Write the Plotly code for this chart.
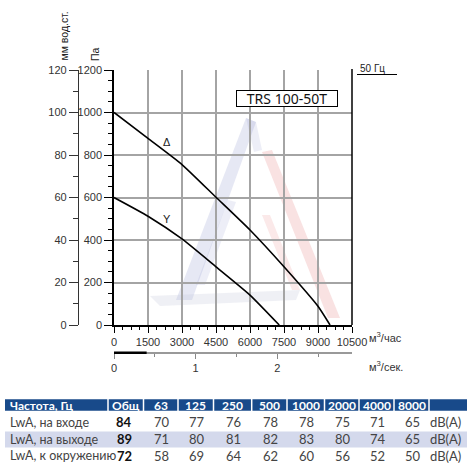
import plotly.graph_objects as go

W = H = 472

# ---- data ----
flow_delta = [0, 1500, 3000, 4500, 6000, 7500, 9000, 9530]
pres_delta = [1000, 878, 755, 601, 447, 274, 88, 0]
flow_star = [0, 1500, 3000, 4500, 6000, 7290]
pres_star = [600, 512, 405, 274, 141, 0]

flow_ticks = [0, 1500, 3000, 4500, 6000, 7500, 9000, 10500]
sec_ticks = [0, 1, 2]

freq_header = ["Частота, Гц", "Общ", "63", "125", "250", "500", "1000", "2000", "4000", "8000", ""]
row_labels = ["LwA, на входе", "LwA, на выходе", "LwA, к окружению"]
row_totals = [84, 89, 72]
row_inlet = [70, 77, 76, 78, 78, 75, 71, 65]
row_outlet = [71, 80, 81, 82, 83, 80, 74, 65]
row_surround = [58, 69, 64, 62, 60, 56, 52, 50]
unit_label = "dB(A)"
model_name = "TRS 100-50T"


def X(px):
    return px / W


def Y(py):
    return 1 - py / H


TICKFONT = dict(family="Liberation Sans, Arial, sans-serif", size=11, color="#333")
TABFONT = "Lato, Noto Sans, sans-serif"
BOXFONT = "Noto Sans, Open Sans, sans-serif"
LBLFONT = "Liberation Sans, Arial, sans-serif"
GRID = "#a4a4a4"

fig = go.Figure()

fig.add_trace(go.Scatter(x=flow_delta, y=pres_delta, mode="lines",
                         line=dict(color="black", width=1.6, shape="spline", smoothing=0.5),
                         hoverinfo="skip"))
fig.add_trace(go.Scatter(x=flow_star, y=pres_star, mode="lines",
                         line=dict(color="black", width=1.6, shape="spline", smoothing=0.5),
                         hoverinfo="skip"))
# dummy traces so the secondary axes are drawn
fig.add_trace(go.Scatter(x=[0], y=[0], yaxis="y2", mode="markers",
                         marker=dict(opacity=0), hoverinfo="skip"))
fig.add_trace(go.Scatter(x=[0], y=[0], xaxis="x2", mode="markers",
                         marker=dict(opacity=0), hoverinfo="skip"))

shapes = []
annotations = []


def note(text, px, py, size=11, color="#333", family=LBLFONT, xanchor="center", **kw):
    d = dict(text=text, xref="paper", yref="paper", x=X(px), y=Y(py),
             xanchor=xanchor, yanchor="middle", showarrow=False,
             font=dict(family=family, size=size, color=color))
    d.update(kw)
    annotations.append(d)


# watermark (faint logo)
def poly(pts, color):
    path = "M " + " L ".join(f"{X(a)},{Y(b)}" for a, b in pts) + " Z"
    shapes.append(dict(type="path", xref="paper", yref="paper", layer="below",
                       line=dict(width=0), fillcolor=color, path=path))


poly([(246, 118), (256, 122), (192, 300), (176, 300)], "rgba(140,150,205,0.22)")
poly([(246, 118), (256, 122), (262, 150), (254, 152)], "rgba(140,150,205,0.16)")
poly([(262, 152), (272, 150), (340, 318), (328, 318)], "rgba(225,110,110,0.20)")
poly([(228, 200), (236, 202), (205, 285), (196, 285)], "rgba(140,150,205,0.16)")
poly([(262, 215), (270, 215), (300, 290), (292, 290)], "rgba(225,110,110,0.15)")
poly([(150, 296), (300, 290), (296, 300), (160, 306)], "rgba(190,195,215,0.25)")

# right frame border
shapes.append(dict(type="line", xref="paper", yref="paper",
                   x0=X(352), x1=X(352), y0=Y(69), y1=Y(325),
                   line=dict(color="black", width=1.5)))

# model box
note(model_name, 287, 98.4, size=14, color="#111", family=BOXFONT,
     width=100, height=15, borderpad=0, borderwidth=1, bordercolor="black", bgcolor="white")

# 50 Hz label
note("50 Гц", 357.5, 68, size=10, color="#222", xanchor="left")
shapes.append(dict(type="line", xref="paper", yref="paper",
                   x0=X(357), x1=X(397), y0=Y(74.5), y1=Y(74.5),
                   line=dict(color="black", width=1)))

# axis titles
note("мм вод.ст.", 63.5, 36, size=10.5, color="#222", textangle=-90)
note("Па", 95, 54, size=10.5, color="#222", textangle=-90)
note("м<sup>3</sup>/час", 367, 337, size=11, xanchor="left")
note("м<sup>3</sup>/сек.", 367, 366, size=11, xanchor="left")

# curve labels
note("Δ", 167.3, 142, size=11, color="#222")
note("Y", 167.3, 219, size=11, color="#222")

# thick segment on m3/s axis
shapes.append(dict(type="line", xref="x2", yref="paper", x0=0, x1=0.40,
                   y0=Y(352.7), y1=Y(352.7), line=dict(color="black", width=2.5)))

# ---- sound table ----
col_edges = [5, 108, 143.5, 178, 213.5, 251.7, 287, 324.5, 359, 394, 429, 467]
head_top, head_bot = 399.3, 410.7
row_centers = [422.3, 439.3, 455.7]
HEAD_BLUE = "#184a8a"

for i in range(len(col_edges) - 1):
    x0 = col_edges[i] + (0.75 if i > 0 else 0)
    x1 = col_edges[i + 1] - (0.75 if i < len(col_edges) - 2 else 0)
    shapes.append(dict(type="rect", xref="paper", yref="paper",
                       x0=X(x0), x1=X(x1), y0=Y(head_bot), y1=Y(head_top),
                       line=dict(width=0), fillcolor=HEAD_BLUE, layer="below"))

shapes.append(dict(type="rect", xref="paper", yref="paper",
                   x0=X(5), x1=X(467), y0=Y(447.5), y1=Y(431.5),
                   line=dict(width=0), fillcolor="#d4d9ec", layer="below"))

for i, h in enumerate(freq_header):
    if not h:
        continue
    if i == 0:
        note(f"<b>{h}</b>", 7.5, 405, size=12, color="white", family=TABFONT, xanchor="left")
    else:
        cx = (col_edges[i] + col_edges[i + 1]) / 2
        note(f"<b>{h}</b>", cx, 405, size=12, color="white", family=TABFONT)

rows = [row_inlet, row_outlet, row_surround]
for r, (lab, tot, vals) in enumerate(zip(row_labels, row_totals, rows)):
    yc = row_centers[r]
    note(lab, 7.5, yc, size=12.5, color="#444", family=TABFONT, xanchor="left")
    cx = (col_edges[1] + col_edges[2]) / 2
    note(f"<b>{tot}</b>", cx - 1.5, yc, size=13, color="#111", family=TABFONT)
    for j, v in enumerate(vals):
        cx = (col_edges[j + 2] + col_edges[j + 3]) / 2
        note(str(v), cx + 1, yc, size=13, color="#444", family=TABFONT)
    cx = (col_edges[-2] + col_edges[-1]) / 2
    note(unit_label, cx - 3, yc, size=13, color="#444", family=TABFONT)

fig.update_layout(
    template="none",
    width=W, height=H,
    margin=dict(l=0, r=0, t=0, b=0, autoexpand=False),
    paper_bgcolor="white", plot_bgcolor="white",
    showlegend=False,
    xaxis=dict(domain=[X(114), X(352)], range=[0, 10500], tickvals=flow_ticks,
               ticktext=[str(v) for v in flow_ticks],
               ticks="outside", ticklen=6, tickwidth=1, tickcolor="black",
               showline=True, linecolor="black", linewidth=1.5,
               showgrid=True, gridcolor=GRID, gridwidth=1.5, zeroline=False,
               minor=dict(dtick=375, tick0=0, ticks="outside", ticklen=3, tickcolor="black",
                          showgrid=False),
               tickfont=TICKFONT, anchor="y", fixedrange=True, automargin=False),
    yaxis=dict(domain=[Y(325), Y(70)], range=[0, 1200], tick0=0, dtick=200,
               ticks="outside", ticklen=8, tickwidth=1, tickcolor="black",
               showline=True, linecolor="black", linewidth=1.5,
               showgrid=True, gridcolor=GRID, gridwidth=1.5, zeroline=False,
               minor=dict(dtick=50, tick0=0, ticks="outside", ticklen=4, tickcolor="black",
                          showgrid=False),
               tickfont=TICKFONT, anchor="x", fixedrange=True, automargin=False),
    yaxis2=dict(overlaying="y", anchor="free", position=X(78), side="left",
                range=[0, 120], tick0=0, dtick=20,
                ticks="outside", ticklen=9, tickwidth=1, tickcolor="#333",
                showline=True, linecolor="#333", linewidth=1.2,
                showgrid=False, zeroline=False,
                minor=dict(dtick=10, tick0=0, ticks="outside", ticklen=5, tickcolor="#333",
                           showgrid=False),
                tickfont=TICKFONT, fixedrange=True, automargin=False),
    xaxis2=dict(overlaying="x", anchor="free", position=Y(352.7), side="bottom",
                range=[0, 10500 / 3600], tickvals=sec_ticks,
                ticks="outside", ticklen=5, tickwidth=1, tickcolor="#888",
                showline=True, linecolor="#999", linewidth=2,
                showgrid=False, zeroline=False,
                minor=dict(tickvals=[0.5, 1.5, 2.5], ticks="outside", ticklen=3,
                           tickcolor="#888", showgrid=False),
                tickfont=TICKFONT, fixedrange=True, automargin=False),
    shapes=shapes,
    annotations=annotations,
)

fig.write_html("out.html")
